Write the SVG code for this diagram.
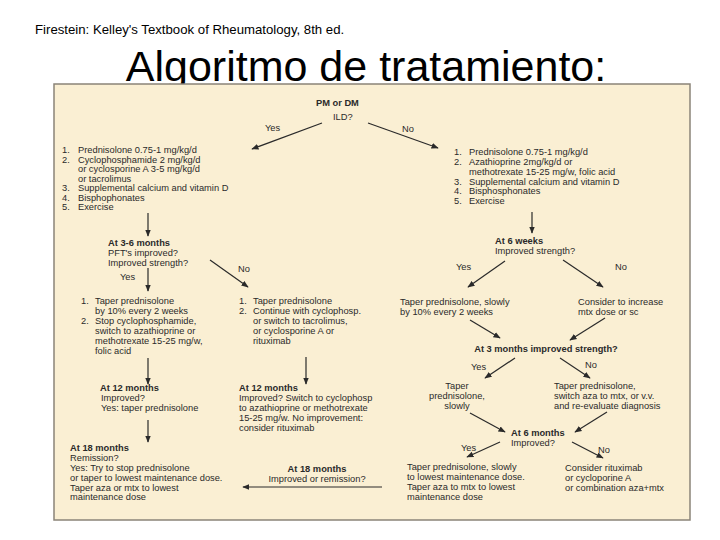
<svg xmlns="http://www.w3.org/2000/svg" width="720" height="540" viewBox="0 0 720 540">
<style>
.t{font-family:"Liberation Sans",Arial,sans-serif;font-size:9.3px;fill:#2a2a2a}
.b{font-weight:bold}
.m{text-anchor:middle}
.c line{stroke:#2a2a2a;stroke-width:1.2;marker-end:url(#a)}
</style>
<defs><marker id="a" viewBox="0 0 10 10" refX="9" refY="5" markerWidth="6" markerHeight="6" orient="auto"><path d="M0,1 L10,5 L0,9 z" fill="#2a2a2a"/></marker></defs>
<rect width="720" height="540" fill="#fff"/>
<text x="35" y="34" font-family="Liberation Sans,Arial,sans-serif" font-size="13.2" fill="#000">Firestein: Kelley's Textbook of Rheumatology, 8th ed.</text>
<text x="366" y="81" text-anchor="middle" font-family="Liberation Sans,Arial,sans-serif" font-size="43" fill="#000">Algoritmo de tratamiento:</text>
<rect x="54" y="84" width="636" height="436" fill="#faefd3" stroke="#8a8478" stroke-width="1.5"/>
<g class="c">
<line x1="322" y1="123" x2="252" y2="149"/>
<line x1="368" y1="123" x2="438" y2="148"/>
<line x1="148" y1="213" x2="148" y2="236"/>
<line x1="148" y1="268" x2="148" y2="291"/>
<line x1="210" y1="260" x2="248" y2="287"/>
<line x1="148" y1="358" x2="148" y2="384"/>
<line x1="306" y1="357" x2="306" y2="384"/>
<line x1="148" y1="420" x2="148" y2="442"/>
<line x1="382" y1="487" x2="243" y2="487"/>
<line x1="532" y1="212" x2="532" y2="233"/>
<line x1="505" y1="261" x2="468" y2="287"/>
<line x1="563" y1="260" x2="603" y2="287"/>
<line x1="470" y1="320" x2="500" y2="338"/>
<line x1="605" y1="318" x2="570" y2="340"/>
<line x1="515" y1="358" x2="485" y2="378"/>
<line x1="560" y1="358" x2="590" y2="378"/>
<line x1="470" y1="413" x2="505" y2="432"/>
<line x1="607" y1="412" x2="575" y2="432"/>
<line x1="500" y1="442" x2="467" y2="457"/>
<line x1="572" y1="442" x2="603" y2="458"/>
</g>
<g id="root" class="t"><text x="316" y="106" class="b">PM or DM</text><text x="333" y="120">ILD?</text></g>
<g id="labels" class="t">
<text x="265" y="131">Yes</text><text x="402" y="132">No</text>
<text x="120" y="280">Yes</text><text x="238" y="272">No</text>
<text x="456" y="270">Yes</text><text x="615" y="270">No</text>
<text x="471" y="370">Yes</text><text x="585" y="368">No</text>
<text x="461" y="451">Yes</text><text x="598" y="453">No</text>
</g>
<g id="left-tx" class="t">
<text x="62" y="153">1.</text><text x="78" y="153">Prednisolone 0.75-1 mg/kg/d</text>
<text x="62" y="162.5">2.</text><text x="78" y="162.5">Cyclophosphamide 2 mg/kg/d</text>
<text x="78" y="172">or cyclosporine A 3-5 mg/kg/d</text>
<text x="78" y="181.5">or tacrolimus</text>
<text x="62" y="191">3.</text><text x="78" y="191">Supplemental calcium and vitamin D</text>
<text x="62" y="200.5">4.</text><text x="78" y="200.5">Bisphophonates</text>
<text x="62" y="210">5.</text><text x="78" y="210">Exercise</text>
</g>
<g id="l36" class="t"><text x="108" y="246" class="b">At 3-6 months</text><text x="108" y="256">PFT's improved?</text><text x="108" y="266">Improved strength?</text></g>
<g id="lyes" class="t">
<text x="81" y="304">1.</text><text x="95" y="304">Taper prednisolone</text><text x="95" y="314">by 10% every 2 weeks</text>
<text x="81" y="324">2.</text><text x="95" y="324">Stop cyclophosphamide,</text><text x="95" y="334">switch to azathioprine or</text>
<text x="95" y="344">methotrexate 15-25 mg/w,</text><text x="95" y="354">folic acid</text>
</g>
<g id="lno" class="t">
<text x="239" y="304">1.</text><text x="253" y="304">Taper prednisolone</text><text x="239" y="314">2.</text><text x="253" y="314">Continue with cyclophosp.</text>
<text x="253" y="324">or switch to tacrolimus,</text><text x="253" y="334">or cyclosporine A or</text><text x="253" y="344">rituximab</text>
</g>
<g id="l12a" class="t"><text x="100" y="391" class="b">At 12 months</text><text x="101" y="401">Improved?</text><text x="101" y="411">Yes: taper prednisolone</text></g>
<g id="l12b" class="t"><text x="239" y="391" class="b">At 12 months</text><text x="239" y="401">Improved?  Switch to cyclophosp</text><text x="239" y="411">to azathioprine or methotrexate</text><text x="239" y="421">15-25 mg/w.   No improvement:</text><text x="239" y="431">consider rituximab</text></g>
<g id="l18a" class="t"><text x="70" y="451" class="b">At 18 months</text><text x="70" y="461">Remission?</text><text x="70" y="471">Yes:  Try to stop prednisolone</text><text x="70" y="481">or taper to lowest maintenance dose.</text><text x="70" y="490.5">Taper aza or mtx to lowest</text><text x="70" y="500">maintenance dose</text></g>
<g id="l18b" class="t"><text x="317" y="472" class="b m">At 18 months</text><text x="317" y="482" class="m">Improved or remission?</text></g>
<g id="right-tx" class="t">
<text x="454" y="155">1.</text><text x="469" y="155">Prednisolone 0.75-1 mg/kg/d</text>
<text x="454" y="165">2.</text><text x="469" y="165">Azathioprine 2mg/kg/d or</text>
<text x="469" y="175">methotrexate 15-25 mg/w, folic acid</text>
<text x="454" y="184.5">3.</text><text x="469" y="184.5">Supplemental calcium and vitamin D</text>
<text x="454" y="194">4.</text><text x="469" y="194">Bisphosphonates</text>
<text x="454" y="203.5">5.</text><text x="469" y="203.5">Exercise</text>
</g>
<g id="r6w" class="t"><text x="495" y="244" class="b">At 6 weeks</text><text x="495" y="254">Improved strength?</text></g>
<g id="ryes" class="t"><text x="400" y="305">Taper prednisolone, slowly</text><text x="400" y="315">by 10% every 2 weeks</text></g>
<g id="rno" class="t"><text x="578" y="305">Consider to increase</text><text x="578" y="315">mtx dose or sc</text></g>
<g id="r3m" class="t"><text x="546" y="352" class="b m">At 3 months improved strength?</text></g>
<g id="r3y" class="t m"><text x="457" y="389" class="m">Taper</text><text x="457" y="399" class="m">prednisolone,</text><text x="457" y="409" class="m">slowly</text></g>
<g id="r3n" class="t"><text x="554" y="389">Taper prednisolone,</text><text x="554" y="399">switch aza to mtx, or v.v.</text><text x="554" y="409">and re-evaluate diagnosis</text></g>
<g id="r6m" class="t"><text x="511" y="436" class="b">At 6 months</text><text x="511" y="446">Improved?</text></g>
<g id="r6y" class="t"><text x="407" y="470">Taper prednisolone, slowly</text><text x="407" y="480">to lowest maintenance dose.</text><text x="407" y="490">Taper aza to mtx to lowest</text><text x="407" y="500">maintenance dose</text></g>
<g id="r6n" class="t"><text x="565" y="471">Consider rituximab</text><text x="565" y="481">or cycloporine A</text><text x="565" y="491">or combination aza+mtx</text></g>
</svg>
